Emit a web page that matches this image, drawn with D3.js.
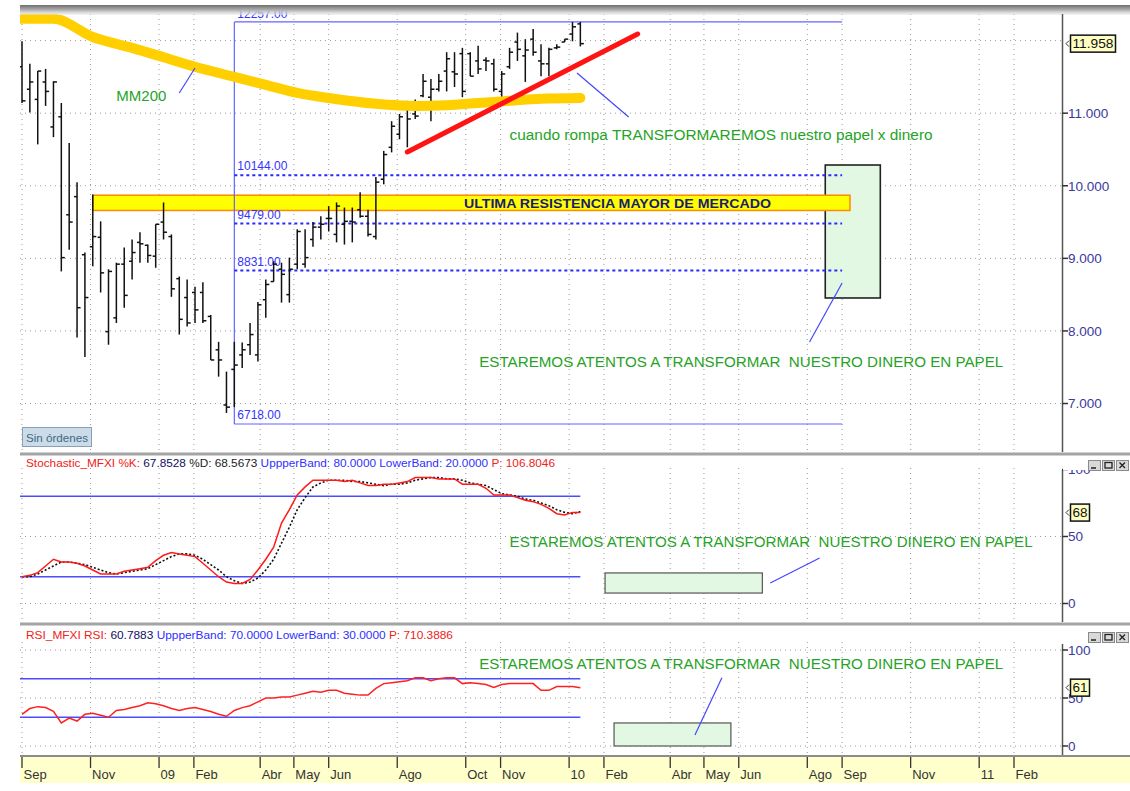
<!DOCTYPE html>
<html>
<head>
<meta charset="utf-8">
<script src="https://cdn.jsdelivr.net/npm/d3@7"></script>
<style>
  body { margin: 0; background: #fff; }
  svg { display: block; font-family: "Liberation Sans", Arial, sans-serif; }
</style>
</head>
<body>
<div id="chart"></div>
<script>
// Weekly OHLC of the index (Sep 2008 - Jan 2010)
const barOpen  = [11640,11330,11190,11430,10810,10950,9600,9850,9050,9160,9290,7990,8180,8920,8960,9220,9180,9030,9500,9300,8720,8460,8530,8530,8200,7740,6980,7470,7670,7810,7670,8430,8680,8850,8500,8920,8920,9260,9430,9550,9330,9470,9510,9670,9580,9300,10090,10530,10710,11060,10990,11240,11220,11330,11580,11570,11820,11820,11720,11730,11680,11300,11640,11980,11790,12020,11720,11680,11900,11980,12090,12230];
const barHigh  = [11990,11680,11580,11610,11440,11140,10590,10050,9080,9880,9510,8850,8940,9150,9260,9360,9190,9470,9770,9330,8750,8710,8610,8670,8220,7850,7440,7850,7840,8110,8400,8710,8960,8940,9010,9400,9400,9500,9580,9720,9770,9700,9700,9910,9670,10120,10480,10890,10990,11170,11190,11540,11470,11540,11840,11840,11900,11840,11930,11770,11750,11580,11900,12110,12020,12160,11950,11900,11950,12020,12257,12257];
const barLow   = [11140,11010,10570,11100,10670,8820,9120,7910,7640,8890,8530,7810,8110,8320,8710,8940,8940,8870,9260,8470,7950,8060,8110,8110,7600,7370,6870,6950,7490,7670,7580,8180,8680,8390,8390,8850,8870,9160,9260,9370,9220,9190,9220,9560,9300,9260,10020,10460,10640,10530,10920,11220,10890,11300,11300,11360,11220,11510,11540,11580,11300,11190,11610,11720,11430,11790,11510,11510,11880,11980,11990,11920];
const barClose = [11170,11430,11580,11300,11430,9010,9500,8320,8460,9300,8800,8820,8920,8490,9080,9200,9040,9470,9360,8580,8160,8110,8290,8140,7600,7600,6950,7530,7740,7950,8360,8640,8920,8780,8850,9370,9010,9430,9470,9550,9720,9510,9500,9580,9330,10050,10430,10820,10950,10920,10960,11440,11330,11440,11750,11540,11300,11510,11610,11720,11330,11540,11840,11880,11870,11840,11680,11880,11910,12020,12190,11958];

// 200-period moving average, read at some weeks (week index -> value)
const mm200Week = [0,4,9,14,18,22,27,31,35,39,45,50,54,58,62,66,71];
const mm200     = [12300,12300,12050,11900,11770,11640,11500,11390,11280,11210,11130,11100,11110,11140,11170,11200,11210];

// Stochastic %K / %D and RSI, weekly
const stochK = [20,21,23,28,33,31,31,30,28,25,22,22,22,24,25,26,27,32,36,38,37,36,35,30,25,20,16,15,15,18,25,33,42,60,70,81,87,92,92,92,92,91,92,90,88,88,89,89,90,91,94,94,94,93,93,93,89,89,89,86,81,81,81,79,77,76,74,71,67,66,68,67.85];
const stochD = [20,20,22,25,28,31,31,30,29,27,25,23,22,23,24,25,26,29,32,35,37,37,36,33,29,25,20,17,15,16,19,25,33,45,57,70,79,87,90,92,92,92,91,91,90,89,88,89,89,90,92,93,94,94,93,93,92,90,89,88,85,82,81,80,78,77,75,73,70,68,67,68.57];
const rsi    = [33,39,41,40,36,24,29,26,33,34,32,30,37,38,40,42,45,44,42,39,37,39,40,38,36,33,31,37,40,42,46,50,50,51,51,53,55,57,56,58,58,55,54,53,53,60,65,66,67,68,71,71,68,70,71,71,65,66,65,64,61,64,65,65,65,65,58,58,62,62,62,60.79];

const stochHeader = { k: "67.8528", d: "68.5673", up: "80.0000", low: "20.0000", p: "106.8046" };
const rsiHeader = { v: "60.7883", up: "70.0000", low: "30.0000", p: "710.3886" };
const stochBands = [80, 20];
const rsiBands = [70, 30];

// Retracement levels
const fibLevels = [12257, 10144, 9479, 8831, 6718];
const fibStart = "2009-03-09", fibEnd = "2010-09-01";

// Time axis
const tickDates  = ["2008-09-01","2008-11-01","2009-01-01","2009-02-01","2009-04-01","2009-05-01","2009-06-01","2009-08-01","2009-10-01","2009-11-01","2010-01-01","2010-02-01","2010-04-01","2010-05-01","2010-06-01","2010-08-01","2010-09-01","2010-11-01","2011-01-01","2011-02-01"];
const tickLabels = ["Sep","Nov","09","Feb","Abr","May","Jun","Ago","Oct","Nov","10","Feb","Abr","May","Jun","Ago","Sep","Nov","11","Feb"];
const priceTicks = [7000, 8000, 9000, 10000, 11000, 12000];

const W = 1130, H = 791;
const plotL = 20, plotR = 1062;
const parse = d3.timeParse("%Y-%m-%d");
const weeks = d3.timeMonday.range(new Date(2008, 8, 1), new Date(2010, 0, 12));

const x = d3.scaleTime().domain([new Date(2008, 8, 1), new Date(2011, 1, 1)]).range([22, 1014]);
const yMain = d3.scaleLinear().domain([6332, 12394]).range([452, 12]);
const yStoch = d3.scaleLinear().domain([0, 100]).range([603.5, 469.5]);
const yRsi = d3.scaleLinear().domain([0, 100]).range([746, 650]);

const GREEN = "#26a326", BLUE = "#4646ff", AXISBLUE = "#3a3a9c";

const svg = d3.select("#chart").append("svg").attr("width", W).attr("height", H);
const defs = svg.append("defs");
const grad = defs.append("linearGradient").attr("id", "hdr").attr("x1", 0).attr("x2", 0).attr("y1", 0).attr("y2", 1);
grad.append("stop").attr("offset", "0%").attr("stop-color", "#6e6e6e");
grad.append("stop").attr("offset", "50%").attr("stop-color", "#b0b0b0");
grad.append("stop").attr("offset", "100%").attr("stop-color", "#e8e8e8").attr("stop-opacity", 0.5);

function clip(id, y0, y1) {
  defs.append("clipPath").attr("id", id).append("rect")
    .attr("x", plotL).attr("y", y0).attr("width", plotR - plotL).attr("height", y1 - y0);
  return svg.append("g").attr("clip-path", `url(#${id})`);
}

// ---------- grids ----------
function vGrid(y0, y1) {
  svg.append("g").selectAll("line").data(tickDates).enter().append("line")
    .attr("x1", d => x(parse(d))).attr("x2", d => x(parse(d)))
    .attr("y1", y0).attr("y2", y1)
    .attr("stroke", "#9a9a9a").attr("stroke-dasharray", "1,4");
}
function hGrid(vals, y) {
  svg.append("g").selectAll("line").data(vals).enter().append("line")
    .attr("x1", plotL).attr("x2", plotR)
    .attr("y1", d => y(d)).attr("y2", d => y(d))
    .attr("stroke", "#9a9a9a").attr("stroke-dasharray", "1,4");
}
vGrid(14, 452); hGrid(priceTicks, yMain);
vGrid(468, 622); hGrid([0, 50], yStoch);
vGrid(642, 755); hGrid([0, 50, 100], yRsi);

// ---------- main panel ----------
const main = clip("clipMain", 6, 452);

// green target box (under the band and the levels)
main.append("rect")
  .attr("x", x(parse("2010-08-17"))).attr("width", x(parse("2010-10-05")) - x(parse("2010-08-17")))
  .attr("y", yMain(10286)).attr("height", yMain(8454) - yMain(10286))
  .attr("fill", "#e2f8e2").attr("stroke", "#222").attr("stroke-width", 1.6);

// resistance band
main.append("rect")
  .attr("x", x(parse("2008-11-03"))).attr("width", x(parse("2010-09-08")) - x(parse("2008-11-03")))
  .attr("y", yMain(9870)).attr("height", yMain(9660) - yMain(9870))
  .attr("fill", "#ffff00").attr("stroke", "#ff8a00").attr("stroke-width", 1.5);

// retracement frame
const fx0 = x(parse(fibStart)), fx1 = x(parse(fibEnd));
main.append("line").attr("x1", fx0).attr("x2", fx0).attr("y1", yMain(fibLevels[0])).attr("y2", yMain(fibLevels[4]))
  .attr("stroke", "#6464ff").attr("stroke-width", 1.2);
main.selectAll(".fib").data(fibLevels).enter().append("line")
  .attr("x1", fx0).attr("x2", fx1)
  .attr("y1", d => yMain(d)).attr("y2", d => yMain(d))
  .attr("stroke", (d, i) => (i === 0 || i === 4) ? "#6464ff" : "#2a2aff")
  .attr("stroke-width", (d, i) => (i === 0 || i === 4) ? 1.2 : 2)
  .attr("stroke-dasharray", (d, i) => (i === 0 || i === 4) ? null : "3,3");
main.selectAll(".fibl").data(fibLevels).enter().append("text")
  .attr("x", fx0 + 3)
  .attr("y", (d, i) => i === 0 ? yMain(d) - 4 : yMain(d) - 5)
  .attr("font-size", 12).attr("fill", "#3434ff")
  .text(d => d.toFixed(2));

// OHLC bars
const bars = weeks.map((d, i) => ({ date: d, o: barOpen[i], h: barHigh[i], l: barLow[i], c: barClose[i] }));
const bg = main.append("g").attr("stroke", "#111").attr("stroke-width", 1.5);
bg.selectAll(".hl").data(bars).enter().append("line")
  .attr("x1", d => x(d.date)).attr("x2", d => x(d.date))
  .attr("y1", d => yMain(d.h)).attr("y2", d => yMain(d.l));
bg.selectAll(".op").data(bars).enter().append("line")
  .attr("x1", d => x(d.date) - 3).attr("x2", d => x(d.date))
  .attr("y1", d => yMain(d.o)).attr("y2", d => yMain(d.o));
bg.selectAll(".cl").data(bars).enter().append("line")
  .attr("x1", d => x(d.date)).attr("x2", d => x(d.date) + 3.5)
  .attr("y1", d => yMain(d.c)).attr("y2", d => yMain(d.c));

// MM200
const mmData = mm200Week.map((w, i) => ({ date: weeks[w], v: mm200[i] }));
main.append("path").datum(mmData)
  .attr("d", d3.line().x(d => x(d.date)).y(d => yMain(d.v)).curve(d3.curveMonotoneX))
  .attr("fill", "none").attr("stroke", "#ffcf00").attr("stroke-width", 10)
  .attr("stroke-linecap", "round");

// trend line
main.append("line")
  .attr("x1", x(parse("2009-08-10"))).attr("y1", yMain(10465))
  .attr("x2", x(parse("2010-03-03"))).attr("y2", yMain(12091))
  .attr("stroke", "#ff1414").attr("stroke-width", 5).attr("stroke-linecap", "round");

// band label
main.append("text")
  .attr("x", x(parse("2010-02-13"))).attr("y", yMain(9765)).attr("dy", "0.36em")
  .attr("text-anchor", "middle").attr("font-size", 13).attr("font-weight", "bold")
  .attr("fill", "#1c1c6e").attr("textLength", 307).attr("lengthAdjust", "spacingAndGlyphs")
  .text("ULTIMA RESISTENCIA MAYOR DE MERCADO");

// callouts
function callout(g, ys, d0, v0, d1, v1) {
  g.append("line").attr("x1", x(parse(d0))).attr("y1", ys(v0)).attr("x2", x(parse(d1))).attr("y2", ys(v1))
    .attr("stroke", BLUE).attr("stroke-width", 1.2);
}
function note(g, ys, d, v, txt, len) {
  g.append("text").attr("x", x(parse(d))).attr("y", ys(v))
    .attr("font-size", 14).attr("fill", GREEN)
    .attr("textLength", len).attr("lengthAdjust", "spacingAndGlyphs")
    .style("white-space", "pre").text(txt);
}
callout(main, yMain, "2009-01-19", 11278, "2009-02-02", 11623);
callout(main, yMain, "2010-01-08", 11554, "2010-02-23", 10948);
callout(main, yMain, "2010-08-03", 7848, "2010-09-01", 8661);
note(main, yMain, "2008-11-24", 11168, "MM200", 50);
note(main, yMain, "2009-11-09", 10631, "cuando rompa TRANSFORMAREMOS nuestro papel x dinero", 423);
note(main, yMain, "2009-10-13", 7503, "ESTAREMOS ATENTOS A TRANSFORMAR  NUESTRO DINERO EN PAPEL", 524);

// header strip of the main window
svg.append("rect").attr("x", plotL).attr("y", 5).attr("width", W - plotL).attr("height", 10).attr("fill", "url(#hdr)");

// "Sin órdenes" button
svg.append("rect").attr("x", 22.5).attr("y", 427.5).attr("width", 69).attr("height", 19)
  .attr("fill", "#cbdbe8").attr("stroke", "#86a0b8");
svg.append("text").attr("x", 26).attr("y", 441.5).attr("font-size", 11.5).attr("fill", "#3d6a84")
  .attr("textLength", 62).attr("lengthAdjust", "spacingAndGlyphs").text("Sin órdenes");

// ---------- stochastic panel ----------
const st = clip("clipSt", 470, 622);
st.selectAll(".band").data(stochBands).enter().append("line")
  .attr("x1", plotL).attr("x2", x(weeks[weeks.length - 1]))
  .attr("y1", d => yStoch(d)).attr("y2", d => yStoch(d))
  .attr("stroke", "#4c4cff").attr("stroke-width", 1.5);
const kData = weeks.map((d, i) => ({ date: d, v: stochK[i] }));
const dData = weeks.map((d, i) => ({ date: d, v: stochD[i] }));
st.append("path").datum(dData)
  .attr("d", d3.line().x(d => x(d.date)).y(d => yStoch(d.v)))
  .attr("fill", "none").attr("stroke", "#111").attr("stroke-width", 1.6).attr("stroke-dasharray", "2,2");
st.append("path").datum(kData)
  .attr("d", d3.line().x(d => x(d.date)).y(d => yStoch(d.v)))
  .attr("fill", "none").attr("stroke", "#ff1a1a").attr("stroke-width", 1.5);
st.append("rect")
  .attr("x", x(parse("2010-02-02"))).attr("width", x(parse("2010-06-22")) - x(parse("2010-02-02")))
  .attr("y", yStoch(22.8)).attr("height", yStoch(7.8) - yStoch(22.8))
  .attr("fill", "#e2f8e2").attr("stroke", "#555").attr("stroke-width", 1.2);
callout(st, yStoch, "2010-06-29", 15.3, "2010-08-12", 34);
note(svg, yStoch, "2009-11-09", 42, "ESTAREMOS ATENTOS A TRANSFORMAR  NUESTRO DINERO EN PAPEL", 523);

const sh = svg.append("text").attr("x", 26).attr("y", 467).attr("font-size", 11)
  .attr("textLength", 529).attr("lengthAdjust", "spacingAndGlyphs").style("white-space", "pre");
sh.append("tspan").attr("fill", "#f02020").text("Stochastic_MFXI %K: ");
sh.append("tspan").attr("fill", "#101060").text(stochHeader.k + " ");
sh.append("tspan").attr("fill", "#222").text("%D: " + stochHeader.d + " ");
sh.append("tspan").attr("fill", "#3030ff").text("UppperBand: " + stochHeader.up + " ");
sh.append("tspan").attr("fill", "#3030ff").text("LowerBand: " + stochHeader.low + " ");
sh.append("tspan").attr("fill", "#f02020").text("P: " + stochHeader.p);

// ---------- RSI panel ----------
const rs = clip("clipRsi", 642, 755);
rs.selectAll(".band").data(rsiBands).enter().append("line")
  .attr("x1", plotL).attr("x2", x(weeks[weeks.length - 1]))
  .attr("y1", d => yRsi(d)).attr("y2", d => yRsi(d))
  .attr("stroke", "#4c4cff").attr("stroke-width", 1.5);
const rData = weeks.map((d, i) => ({ date: d, v: rsi[i] }));
rs.append("path").datum(rData)
  .attr("d", d3.line().x(d => x(d.date)).y(d => yRsi(d.v)))
  .attr("fill", "none").attr("stroke", "#ff2020").attr("stroke-width", 1.5);
rs.append("rect")
  .attr("x", x(parse("2010-02-10"))).attr("width", x(parse("2010-05-25")) - x(parse("2010-02-10")))
  .attr("y", yRsi(24)).attr("height", yRsi(0) - yRsi(24))
  .attr("fill", "#e2f8e2").attr("stroke", "#555").attr("stroke-width", 1.2);
callout(rs, yRsi, "2010-04-23", 11.5, "2010-05-17", 71);
note(svg, yRsi, "2009-10-13", 80, "ESTAREMOS ATENTOS A TRANSFORMAR  NUESTRO DINERO EN PAPEL", 524);

const rh = svg.append("text").attr("x", 26).attr("y", 639).attr("font-size", 11)
  .attr("textLength", 427).attr("lengthAdjust", "spacingAndGlyphs").style("white-space", "pre");
rh.append("tspan").attr("fill", "#f02020").text("RSI_MFXI RSI: ");
rh.append("tspan").attr("fill", "#101060").text(rsiHeader.v + " ");
rh.append("tspan").attr("fill", "#3030ff").text("UppperBand: " + rsiHeader.up + " ");
rh.append("tspan").attr("fill", "#3030ff").text("LowerBand: " + rsiHeader.low + " ");
rh.append("tspan").attr("fill", "#f02020").text("P: " + rsiHeader.p);

// ---------- right axes ----------
function rightAxis(ys, vals, fmt, y0, y1) {
  svg.append("line").attr("x1", plotR + 0.5).attr("x2", plotR + 0.5).attr("y1", y0).attr("y2", y1)
    .attr("stroke", "#555").attr("stroke-width", 1.5);
  const g = svg.append("g");
  g.selectAll("line").data(vals).enter().append("line")
    .attr("x1", plotR).attr("x2", plotR + 6).attr("y1", d => ys(d)).attr("y2", d => ys(d))
    .attr("stroke", "#333").attr("stroke-width", 1.5);
  g.selectAll("text").data(vals).enter().append("text")
    .attr("x", plotR + 6).attr("y", d => ys(d)).attr("dy", "0.36em")
    .attr("font-size", 13.5).attr("fill", AXISBLUE).text(fmt);
}
rightAxis(yMain, [7000, 8000, 9000, 10000, 11000], d => d3.format(".3f")(d / 1000), 14, 452);
rightAxis(yStoch, [0, 50, 100], d => d, 470, 622);
rightAxis(yRsi, [0, 50, 100], d => d, 644, 756);

function valueBox(ys, v, txt, w) {
  const yy = ys(v);
  svg.append("path").attr("d", `M${plotR + 7},${yy - 3} l-3,3 l3,3`).attr("fill", "none").attr("stroke", "#333");
  svg.append("rect").attr("x", plotR + 8.5).attr("y", yy - 8.5).attr("width", w).attr("height", 17)
    .attr("fill", "#ffffc4").attr("stroke", "#111").attr("stroke-width", 1.5);
  svg.append("text").attr("x", plotR + 10.5).attr("y", yy).attr("dy", "0.36em")
    .attr("font-size", 13).attr("fill", "#111").attr("textLength", w - 4).attr("lengthAdjust", "spacingAndGlyphs").text(txt);
}
valueBox(yMain, barClose[barClose.length - 1], d3.format(".3f")(barClose[barClose.length - 1] / 1000), 45);
valueBox(yStoch, +stochHeader.k, String(Math.round(+stochHeader.k)), 19);
valueBox(yRsi, +rsiHeader.v, String(Math.round(+rsiHeader.v)), 19);

// ---------- separators / window chrome ----------
[[452.5, 3], [622.5, 3]].forEach(([yy, h]) => {
  svg.append("rect").attr("x", plotL).attr("y", yy).attr("width", W - plotL).attr("height", h).attr("fill", "#a4a4a4");
});
svg.append("rect").attr("x", plotR + 1).attr("y", 456).attr("width", W - plotR - 1).attr("height", 14).attr("fill", "#fff");
svg.append("rect").attr("x", plotR + 1).attr("y", 626).attr("width", W - plotR - 1).attr("height", 16).attr("fill", "#fff");
[460, 632].forEach(yy => {
  [1088, 1102, 1116].forEach((bx, k) => {
    svg.append("rect").attr("x", bx + 0.5).attr("y", yy + 0.5).attr("width", 12).attr("height", 10)
      .attr("fill", "#d8d8d8").attr("stroke", "#8a8a8a");
    if (k === 0) svg.append("line").attr("x1", bx + 3).attr("x2", bx + 8).attr("y1", yy + 8).attr("y2", yy + 8).attr("stroke", "#222").attr("stroke-width", 1.5);
    if (k === 1) svg.append("rect").attr("x", bx + 3).attr("y", yy + 2.5).attr("width", 7).attr("height", 5.5).attr("fill", "none").attr("stroke", "#222").attr("stroke-width", 1.3);
    if (k === 2) svg.append("path").attr("d", `M${bx + 3.5},${yy + 2.5} l5.5,5.5 M${bx + 9},${yy + 2.5} l-5.5,5.5`).attr("stroke", "#222").attr("stroke-width", 1.3);
  });
});

// ---------- time axis strip ----------
svg.append("rect").attr("x", plotL).attr("y", 756).attr("width", W - plotL).attr("height", 27).attr("fill", "#ffffcc");
svg.append("line").attr("x1", plotL).attr("x2", W).attr("y1", 756).attr("y2", 756).attr("stroke", "#8c8c8c").attr("stroke-width", 2);
const xt = svg.append("g");
xt.selectAll("line").data(tickDates).enter().append("line")
  .attr("x1", d => x(parse(d))).attr("x2", d => x(parse(d))).attr("y1", 757).attr("y2", 768)
  .attr("stroke", "#333").attr("stroke-width", 1.3);
xt.selectAll("text").data(tickDates).enter().append("text")
  .attr("x", d => x(parse(d)) + 1.5).attr("y", 779)
  .attr("font-size", 13).attr("fill", "#333")
  .text((d, i) => tickLabels[i]);
</script>
</body>
</html>
